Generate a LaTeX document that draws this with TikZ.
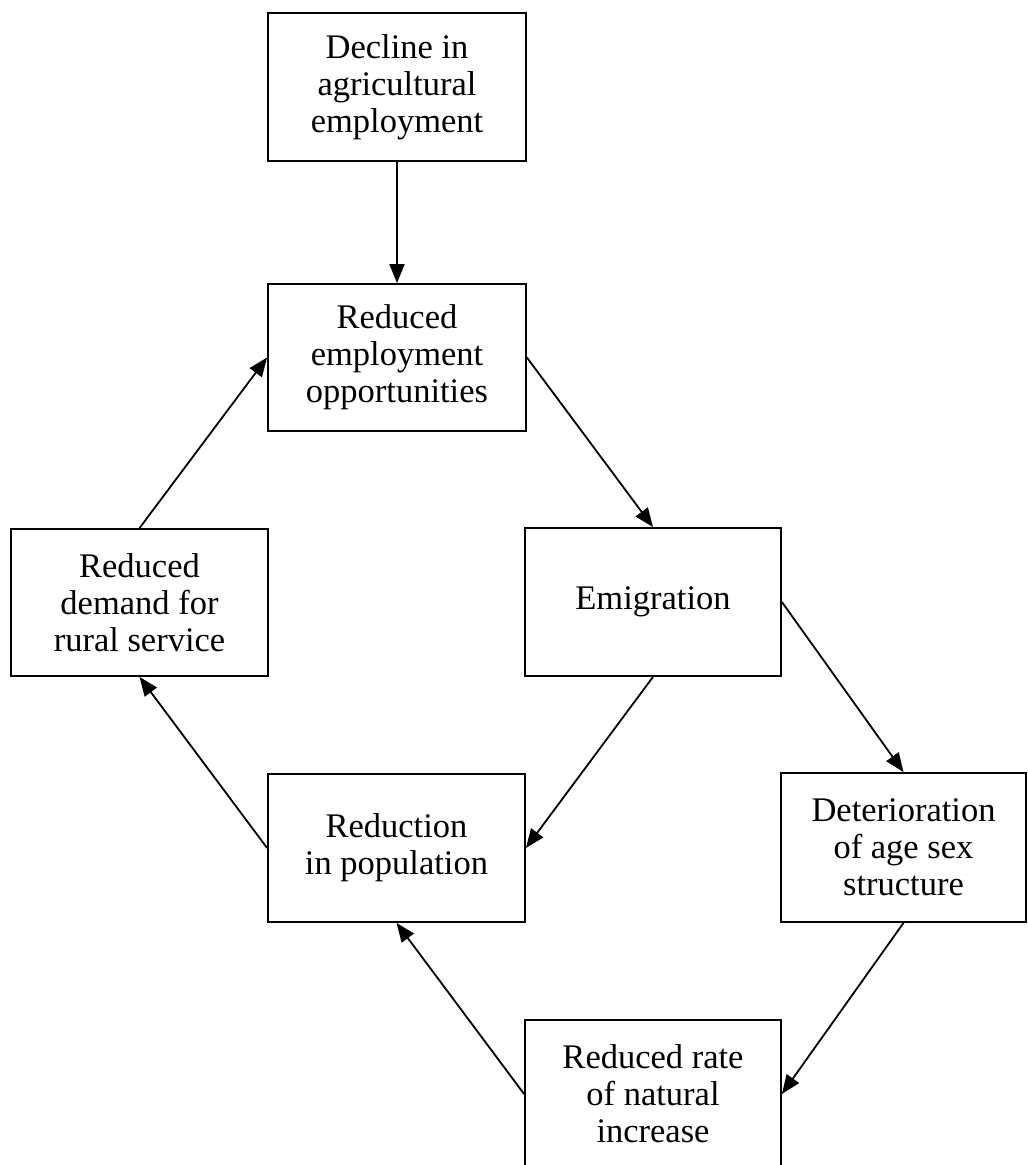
\documentclass[tikz,border=0pt]{standalone}
\usepackage{fontspec}
\setmainfont{Liberation Serif}
\usetikzlibrary{arrows.meta}
\begin{document}
\begin{tikzpicture}[x=1pt,y=-1pt,
  box/.style={draw=black, line width=1.8pt, rectangle, inner sep=0pt, align=center,
    font=\fontsize{34.5}{37}\selectfont, anchor=center},
  arr/.style={line width=1.8pt, -{Triangle[length=19pt,width=15pt]}}]
\useasboundingbox (0,0) rectangle (1028,1165);
\node[box, minimum width=258pt, minimum height=148pt] (b1) at (397,87) {Decline in\\agricultural\\employment};
\node[box, minimum width=258pt, minimum height=147pt] (b2) at (397,357.5) {Reduced\\employment\\opportunities};
\node[box, minimum width=257pt, minimum height=147pt] (b3) at (139.5,602.5) {Reduced\\demand for\\rural service};
\node[box, minimum width=256pt, minimum height=148pt] (b4) at (653,602) {Emigration};
\node[box, minimum width=257pt, minimum height=148pt] (b5) at (396.5,848) {Reduction\\in population};
\node[box, minimum width=245pt, minimum height=149pt] (b6) at (903.5,847.5) {Deterioration\\of age sex\\structure};
\node[box, minimum width=256pt, minimum height=148pt] (b7) at (653,1094) {Reduced rate\\of natural\\increase};
\draw[arr] (b1.south) -- (b2.north);
\draw[arr] (b3.north) -- (b2.west);
\draw[arr] (b2.east) -- (b4.north);
\draw[arr] (b4.south) -- (b5.east);
\draw[arr] (b4.east) -- (b6.north);
\draw[arr] (b5.west) -- (b3.south);
\draw[arr] (b6.south) -- (b7.east);
\draw[arr] (b7.west) -- (b5.south);
\end{tikzpicture}
\end{document}
